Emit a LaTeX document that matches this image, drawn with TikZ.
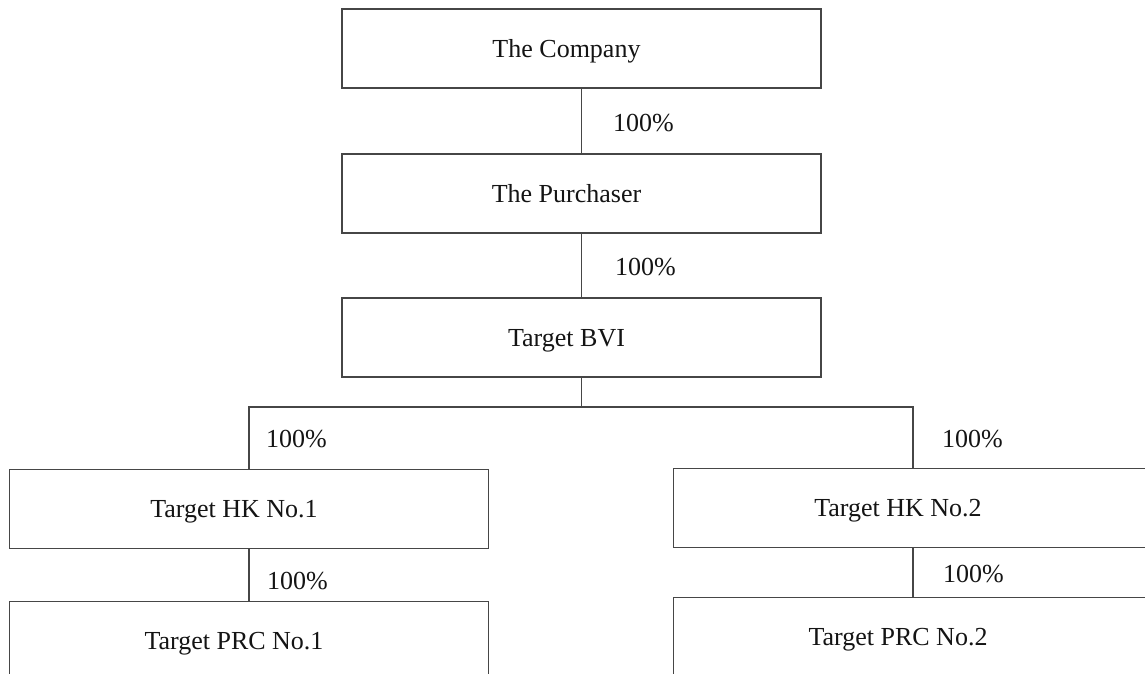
\documentclass[tikz,border=0pt]{standalone}
\usepackage{fontspec}
\setmainfont{Liberation Serif}
\usetikzlibrary{positioning}
\definecolor{linecolor}{RGB}{70,70,70}
\definecolor{textcolor}{RGB}{20,20,20}

\begin{document}
\begin{tikzpicture}[
    x=1pt, y=-1pt,
    entity/.style={draw=linecolor, line width=1.5pt, fill=white, minimum width=479pt, minimum height=79pt, inner sep=0pt, text depth=0pt, font=\fontsize{26}{30}\selectfont, text=textcolor, execute at end node={\hspace{30pt}}},
    share/.style={anchor=west, inner sep=0pt, font=\fontsize{26}{30}\selectfont, text=textcolor},
    link/.style={draw=linecolor, line width=1.5pt}
]
    \clip (0,0) rectangle (1145,674);

    % Entities
    \node[entity] (company) at (581.5,48.5) {The Company};
    \node[entity] (purchaser) at (581.5,193.5) {The Purchaser};
    \node[entity] (bvi) at (581.5,337.5) {Target BVI};
    \node[entity] (hkone) at (249,509) {Target HK No.1};
    \node[entity] (hktwo) at (913,508) {Target HK No.2};
    \node[entity] (prcone) at (249,641) {Target PRC No.1};
    \node[entity] (prctwo) at (913,637) {Target PRC No.2};

    % Holdings
    \coordinate (split) at (581.5,407);
    \draw[link] (company) -- (purchaser);
    \draw[link] (purchaser) -- (bvi);
    \draw[link] (bvi.south) -- (split);
    \draw[link] (hkone.north) |- (split) -| (hktwo.north);
    \draw[link] (hkone) -- (prcone);
    \draw[link] (hktwo) -- (prctwo);

    % Percentages
    \node[share] (pctpurchaser) at (613,123) {100\%};
    \node[share] (pctbvi) at (615,267) {100\%};
    \node[share] (pcthkone) at (266,439) {100\%};
    \node[share] (pcthktwo) at (942,439) {100\%};
    \node[share] (pctprcone) at (267,581) {100\%};
    \node[share] (pctprctwo) at (943,574) {100\%};
\end{tikzpicture}
\end{document}
